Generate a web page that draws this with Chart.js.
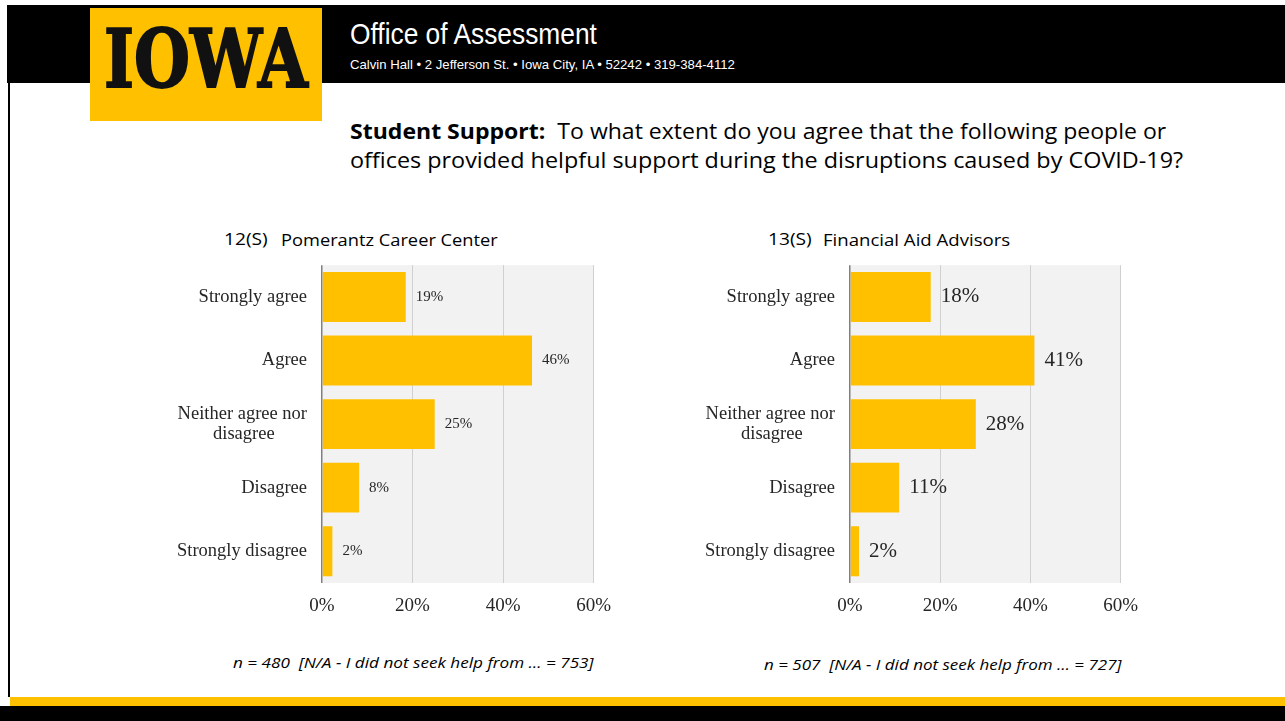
<!DOCTYPE html>
<html>
<head>
<meta charset="utf-8">
<script src="https://cdn.jsdelivr.net/npm/chart.js"></script>
<style>
body{margin:0;width:1285px;height:721px;background:#fff;position:relative;overflow:hidden;font-family:"Liberation Sans",sans-serif}
.abs{position:absolute;white-space:nowrap;transform-origin:0 0}
#topband{left:7px;top:5px;width:1278px;height:78px;background:#000}
#logo{left:90px;top:8px;width:232px;height:113px;background:#ffc000}
#logotxt{left:104px;top:12px;font-family:"DejaVu Serif",serif;font-weight:bold;font-size:80px;color:#111;-webkit-text-stroke:2px #111}
#office{left:350px;top:18px;color:#fff;font-family:"Liberation Sans",sans-serif;font-size:29px}
#addr{left:350px;top:57px;color:#fff;font-family:"Liberation Sans",sans-serif;font-size:13.5px}
#leftline{left:8px;top:83px;width:2px;height:614px;background:#000}
#yband{left:10px;top:697px;width:1275px;height:9px;background:#ffc000}
#bband{left:0;top:706px;width:1285px;height:15px;background:#000}
.q{font-family:"Open Sans",sans-serif;font-size:21px;color:#000}
.ctitle{font-family:"Open Sans",sans-serif;font-size:17px;color:#000}
.note{font-family:"Open Sans",sans-serif;font-style:italic;font-size:15px;color:#000}
canvas{position:absolute}
</style>
</head>
<body>
<div class="abs" id="topband"></div>
<div class="abs" id="logo"></div>
<div class="abs" id="logotxt">IOWA</div>
<div class="abs" id="office">Office of Assessment</div>
<div class="abs" id="addr">Calvin Hall • 2 Jefferson St. • Iowa City, IA • 52242 • 319-384-4112</div>
<div class="abs" id="leftline"></div>
<div class="abs" id="yband"></div>
<div class="abs" id="bband"></div>
<div class="abs q" id="q1" style="left:350px;top:117px"><b>Student Support:</b>&nbsp; To what extent do you agree that the following people or</div>
<div class="abs q" id="q2" style="left:350px;top:146px">offices provided helpful support during the disruptions caused by COVID-19?</div>

<div class="abs ctitle" id="t1a" style="left:224px;top:227px">12(S)</div>
<div class="abs ctitle" id="t1b" style="left:281px;top:228px">Pomerantz Career Center</div>
<div class="abs ctitle" id="t2a" style="left:768px;top:227px">13(S)</div>
<div class="abs ctitle" id="t2b" style="left:823px;top:228px">Financial Aid Advisors</div>

<canvas id="c1" width="473" height="380" style="left:150px;top:240px"></canvas>
<canvas id="c2" width="472" height="380" style="left:678px;top:240px"></canvas>

<div class="abs note" id="n1" style="left:233px;top:652px">n = 480&nbsp; [N/A - I did not seek help from … = 753]</div>
<div class="abs note" id="n2" style="left:764px;top:654px">n = 507&nbsp; [N/A - I did not seek help from … = 727]</div>

<script>
var categories = ["Strongly agree", "Agree", ["Neither agree nor", "disagree\u00a0\u00a0\u00a0\u00a0\u00a0\u00a0\u00a0"], "Disagree", "Strongly disagree"];
var careerCenter = [18.5, 46.4, 24.9, 8.2, 2.3];
var finAidAdvisors = [17.9, 40.9, 27.9, 10.9, 2.0];
var xTicks = [0, 20, 40, 60];

// squeeze or stretch header text to the widths in the original slide
function fit(id, w){
	var el = document.getElementById(id);
	el.style.transform = 'scaleX(' + (w / el.offsetWidth) + ')';
}
fit('logotxt', 204);
fit('office', 247);
fit('addr', 385);
fit('q1', 816);
fit('q2', 833);
fit('t1a', 44);
fit('t1b', 217);
fit('t2a', 44);
fit('t2b', 187);
fit('n1', 361);
fit('n2', 358);

var plotBg = {
	id:'plotBg',
	beforeDraw:function(c){
		var a = c.chartArea;
		c.ctx.save();
		c.ctx.fillStyle = '#f2f2f2';
		c.ctx.fillRect(a.left, a.top, a.right - a.left, a.bottom - a.top);
		c.ctx.restore();
	}
};

var valueLabels = {
	id:'valueLabels',
	afterDatasetsDraw:function(c, args, opts){
		var ctx = c.ctx;
		var meta = c.getDatasetMeta(0);
		ctx.save();
		ctx.font = opts.size + 'px "Liberation Serif", serif';
		ctx.fillStyle = '#262626';
		ctx.textAlign = 'left';
		ctx.textBaseline = 'middle';
		meta.data.forEach(function(bar, i){
			var v = c.data.datasets[0].data[i];
			ctx.fillText(Math.round(v) + '%', bar.x + 10, bar.y);
		});
		ctx.restore();
	}
};

function makeChart(id, values, labelSize, yWidth){
	var ctx = document.getElementById(id).getContext('2d');
	return new Chart(ctx, {
		type:'bar',
		data:{
			labels: categories,
			datasets:[{
				data: values,
				backgroundColor:'#ffc000',
				categoryPercentage:1,
				barPercentage:0.785
			}]
		},
		options:{
			indexAxis:'y',
			responsive:false,
			animation:false,
			devicePixelRatio:1,
			layout:{padding:{top:0, right:27, left:0, bottom:0}},
			plugins:{
				legend:{display:false},
				tooltip:{enabled:false},
				valueLabels:{size:labelSize}
			},
			scales:{
				x:{
					min:0, max:60,
					afterBuildTicks:function(s){ s.ticks = xTicks.map(function(v){ return {value:v}; }); },
					afterFit:function(s){ s.height = 37; },
					border:{display:false},
					grid:{
						drawTicks:false,
						color:function(c){ return c.tick && c.tick.value === 0 ? '#808080' : '#d0d0d0'; },
						lineWidth:function(c){ return c.tick && c.tick.value === 0 ? 1.5 : 1; }
					},
					ticks:{
						padding:12,
						color:'#262626',
						font:{family:'"Liberation Serif", serif', size:19},
						callback:function(v){ return v + '%'; }
					}
				},
				y:{
					afterFit:function(s){ s.width = yWidth; },
					border:{display:false},
					grid:{display:false, drawTicks:false},
					ticks:{
						padding:15,
						color:'#262626',
						font:{family:'"Liberation Serif", serif', size:18.5, lineHeight:1.1}
					}
				}
			}
		},
		plugins:[plotBg, valueLabels]
	});
}

makeChart('c1', careerCenter, 15, 172);
makeChart('c2', finAidAdvisors, 21, 172);
</script>
</body>
</html>
